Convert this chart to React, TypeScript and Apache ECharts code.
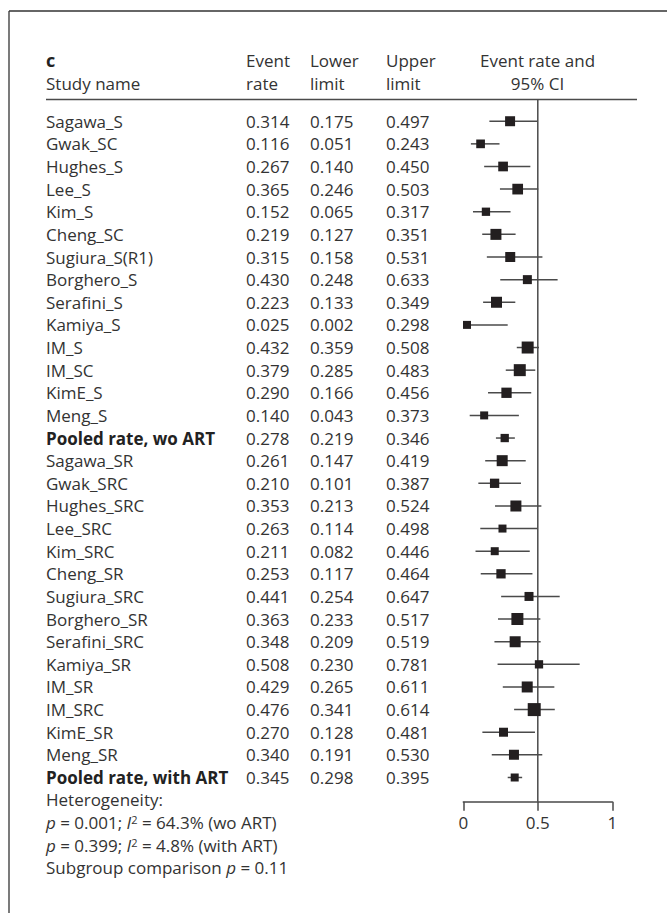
import React, { useEffect, useRef } from 'react';
import * as echarts from 'echarts';

// ---------------- data ----------------
const studyNames = [
  'Sagawa_S', 'Gwak_SC', 'Hughes_S', 'Lee_S', 'Kim_S', 'Cheng_SC', 'Sugiura_S(R1)',
  'Borghero_S', 'Serafini_S', 'Kamiya_S', 'IM_S', 'IM_SC', 'KimE_S', 'Meng_S',
  'Pooled rate, wo ART',
  'Sagawa_SR', 'Gwak_SRC', 'Hughes_SRC', 'Lee_SRC', 'Kim_SRC', 'Cheng_SR', 'Sugiura_SRC',
  'Borghero_SR', 'Serafini_SRC', 'Kamiya_SR', 'IM_SR', 'IM_SRC', 'KimE_SR', 'Meng_SR',
  'Pooled rate, with ART',
];
const eventRate = [
  0.314, 0.116, 0.267, 0.365, 0.152, 0.219, 0.315, 0.430, 0.223, 0.025, 0.432, 0.379, 0.290, 0.140,
  0.278,
  0.261, 0.210, 0.353, 0.263, 0.211, 0.253, 0.441, 0.363, 0.348, 0.508, 0.429, 0.476, 0.270, 0.340,
  0.345,
];
const lowerLimit = [
  0.175, 0.051, 0.140, 0.246, 0.065, 0.127, 0.158, 0.248, 0.133, 0.002, 0.359, 0.285, 0.166, 0.043,
  0.219,
  0.147, 0.101, 0.213, 0.114, 0.082, 0.117, 0.254, 0.233, 0.209, 0.230, 0.265, 0.341, 0.128, 0.191,
  0.298,
];
const upperLimit = [
  0.497, 0.243, 0.450, 0.503, 0.317, 0.351, 0.531, 0.633, 0.349, 0.298, 0.508, 0.483, 0.456, 0.373,
  0.346,
  0.419, 0.387, 0.524, 0.498, 0.446, 0.464, 0.647, 0.517, 0.519, 0.781, 0.611, 0.614, 0.481, 0.530,
  0.395,
];
// relative study weight (drives square size)
const studyWeight = [
  10, 8.7, 9.7, 10.7, 8.3, 11, 10, 9, 11, 8, 12, 12, 10.3, 8,
  8.3,
  11, 9.3, 11, 8, 8, 9.3, 9, 12, 11, 8.3, 11, 13, 9, 10,
  8,
];
const pooledRows = [14, 29];
const xTicks = ['0', '0.5', '1'];
const headerCols = [
  ['Event', 'rate'],
  ['Lower', 'limit'],
  ['Upper', 'limit'],
];
const footerLines = [
  'Heterogeneity:',
  '{i|p} = 0.001; {i|I}{s|2} = 64.3% (wo ART)',
  '{i|p} = 0.399; {i|I}{s|2} = 4.8% (with ART)',
  'Subgroup comparison {i|p} = 0.11',
];

// ---------------- layout ----------------
const FONT = '"Open Sans", "Noto Sans", sans-serif';
const FS = 17;
const TEXT = '#333333';
const LINE = '#4a4a4a';
const ROW0 = 121;
const ROWH = 22.63;
const colX = [46, 246, 310, 386];
const rowY = (i: number) => ROW0 + i * ROWH;

export default function App() {
  const ref = useRef<HTMLDivElement>(null);

  useEffect(() => {
    if (!ref.current) return;
    const chart = echarts.init(ref.current, undefined, { renderer: 'svg' });

    const rows = studyNames.map((_, i) => [eventRate[i], i, lowerLimit[i], upperLimit[i], studyWeight[i]]);

    const graphics: any[] = [
      // frame
      { type: 'line', shape: { x1: 9, y1: 11, x2: 667, y2: 11 }, style: { stroke: '#333', lineWidth: 1.3 } },
      { type: 'line', shape: { x1: 9, y1: 11, x2: 9, y2: 913 }, style: { stroke: '#333', lineWidth: 1.3 } },
      // header line
      { type: 'line', shape: { x1: 46, y1: 99.5, x2: 637, y2: 99.5 }, style: { stroke: LINE, lineWidth: 1.5 } },
      {
        type: 'text', x: 46, y: 60,
        style: { text: 'c', fill: '#222', fontSize: FS + 1, fontWeight: 'bold', fontFamily: FONT, textVerticalAlign: 'middle', verticalAlign: 'middle' },
      },
      {
        type: 'text', x: 46, y: 83,
        style: { text: 'Study name', fill: TEXT, fontSize: FS, fontFamily: FONT, textVerticalAlign: 'middle', verticalAlign: 'middle' },
      },
    ];
    headerCols.forEach((pair, c) => {
      pair.forEach((t, k) => {
        graphics.push({
          type: 'text', x: colX[c + 1], y: 60 + k * 23,
          style: { text: t, fill: TEXT, fontSize: FS, fontFamily: FONT, textVerticalAlign: 'middle', verticalAlign: 'middle' },
        });
      });
    });
    ['Event rate and', '95% CI'].forEach((t, k) => {
      graphics.push({
        type: 'text', x: 537.5, y: 60 + k * 23,
        style: { text: t, fill: TEXT, fontSize: FS, fontFamily: FONT, textAlign: 'center', align: 'center', textVerticalAlign: 'middle', verticalAlign: 'middle' },
      });
    });
    footerLines.forEach((t, k) => {
      graphics.push({
        type: 'text', x: 46, y: rowY(30 + k),
        style: {
          text: t, fill: TEXT, fontSize: FS, fontFamily: FONT,
          textVerticalAlign: 'middle', verticalAlign: 'middle',
          rich: {
            i: { fontStyle: 'italic', fontSize: FS, fontFamily: FONT, fill: TEXT },
            s: { fontSize: 11, fontFamily: FONT, fill: TEXT, verticalAlign: 'top' },
          },
        },
      });
    });

    chart.setOption({
      animation: false,
      backgroundColor: '#ffffff',
      textStyle: { fontFamily: FONT },
      grid: { left: 463.3, top: 99.5, width: 149, height: 702.2 },
      xAxis: {
        type: 'value', min: 0, max: 1, interval: 0.5, position: 'bottom',
        axisLine: { show: true, onZero: false, lineStyle: { color: LINE, width: 1.5 } },
        axisTick: { show: true, inside: false, length: 9, lineStyle: { color: LINE, width: 1.5 } },
        axisLabel: {
          margin: 12, fontSize: FS, color: TEXT, fontFamily: FONT,
          formatter: (v: number) => xTicks[Math.round(v * 2)],
        },
        splitLine: { show: false },
      },
      yAxis: { type: 'value', inverse: true, min: -0.96, max: 30.07, show: false },
      graphic: graphics,
      series: [
        {
          type: 'line', z: 1, symbol: 'none', silent: true,
          data: [[0.5, -0.96], [0.5, 30.07]],
          lineStyle: { color: LINE, width: 1.5 },
        },
        {
          type: 'custom', z: 3, coordinateSystem: 'cartesian2d', clip: false,
          data: rows,
          encode: { x: [0, 2, 3], y: 1 },
          renderItem: (params: any, api: any) => {
            const i = api.value(1);
            const c = api.coord([api.value(0), i]);
            const lo = api.coord([api.value(2), i]);
            const hi = api.coord([api.value(3), i]);
            const s = api.value(4);
            return {
              type: 'group',
              children: [
                { type: 'line', shape: { x1: lo[0], y1: c[1], x2: hi[0], y2: c[1] }, style: { stroke: LINE, lineWidth: 1.5 } },
                { type: 'rect', shape: { x: c[0] - s / 2, y: c[1] - s / 2, width: s, height: s }, style: { fill: '#231f20' } },
              ],
            };
          },
        },
        {
          type: 'custom', z: 4, coordinateSystem: 'cartesian2d', clip: false, silent: true,
          data: rows,
          encode: { x: 0, y: 1 },
          renderItem: (params: any, api: any) => {
            const idx = params.dataIndex;
            const y = api.coord([0, api.value(1)])[1];
            const bold = pooledRows.indexOf(idx) >= 0;
            const texts = [
              studyNames[idx],
              eventRate[idx].toFixed(3),
              lowerLimit[idx].toFixed(3),
              upperLimit[idx].toFixed(3),
            ];
            return {
              type: 'group',
              children: texts.map((t, c) => ({
                type: 'text',
                style: {
                  text: t, x: colX[c], y,
                  fill: c === 0 && bold ? '#222' : TEXT,
                  fontSize: FS, fontFamily: FONT,
                  fontWeight: c === 0 && bold ? 'bold' : 'normal',
                  align: 'left', verticalAlign: 'middle',
                },
              })),
            };
          },
        },
      ],
    });

    return () => chart.dispose();
  }, []);

  return (
    <div
      ref={ref}
      style={{ position: 'fixed', left: 0, top: 0, width: 667, height: 913, background: '#fff' }}
    />
  );
}
